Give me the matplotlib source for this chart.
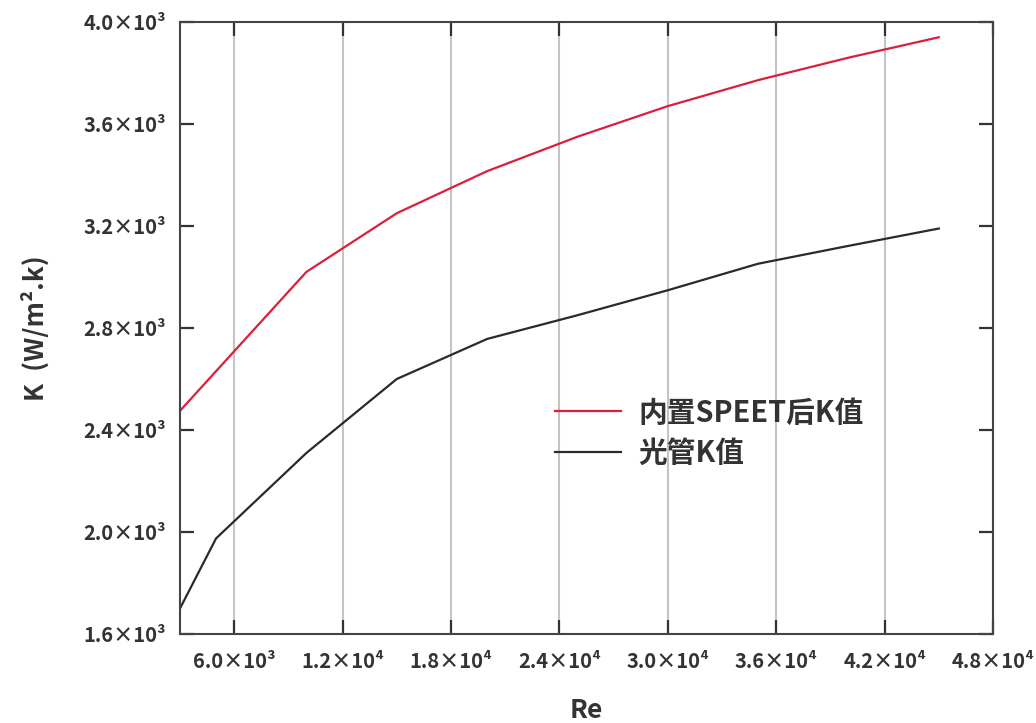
import matplotlib
matplotlib.use("Agg")
import matplotlib.pyplot as plt

plt.rcParams['font.family'] = ['Noto Sans CJK SC', 'DejaVu Sans']

# ---------------------------------------------------------------- data
re_speet = [3000, 10000, 15000, 20000, 25000, 30000, 35000, 40000, 45000]
k_speet = [2475, 3020, 3250, 3415, 3550, 3670, 3772, 3860, 3940]

re_plain = [3000, 5000, 10000, 15000, 20000, 25000, 30000, 35000, 40000, 45000]
k_plain = [1700, 1975, 2310, 2600, 2757, 2850, 2948, 3052, 3122, 3190]

x_ticks = [6000, 12000, 18000, 24000, 30000, 36000, 42000, 48000]
x_labels = ['6.0×10³', '1.2×10⁴', '1.8×10⁴', '2.4×10⁴',
            '3.0×10⁴', '3.6×10⁴', '4.2×10⁴', '4.8×10⁴']
y_ticks = [1600, 2000, 2400, 2800, 3200, 3600, 4000]
y_labels = ['1.6×10³', '2.0×10³', '2.4×10³', '2.8×10³',
            '3.2×10³', '3.6×10³', '4.0×10³']

label_speet = '内置SPEET后K值'
label_plain = '光管K值'

# ---------------------------------------------------------------- plot
fig = plt.figure(figsize=(10.36, 7.23), dpi=100)
ax = fig.add_axes([0.1737, 0.1231, 0.7848, 0.8465])

ax.plot(re_speet, k_speet, color='#db1f3a', lw=1.6, label=label_speet)
ax.plot(re_plain, k_plain, color='#2a2a2a', lw=1.6, label=label_plain)

ax.set_xlim(3000, 48000)
ax.set_ylim(1600, 4000)

ax.set_xticks(x_ticks)
ax.set_xticklabels(x_labels, fontsize=14.5, fontweight='bold', color='#333333')
ax.set_yticks(y_ticks)
ax.set_yticklabels(y_labels, fontsize=14.5, fontweight='bold', color='#333333')

ax.tick_params(direction='in', length=10, width=1.6, color='#333333',
               top=True, right=True, pad=10)
ax.tick_params(axis='x', pad=12)

ax.grid(axis='x', color='#c4c4c4', lw=1.5)
ax.set_axisbelow(True)
for sp in ax.spines.values():
    sp.set_color('#444444')
    sp.set_linewidth(1.5)

ax.set_xlabel('Re', fontsize=19, fontweight='bold', color='#333333', labelpad=18)
ax.set_ylabel('K  (W/m².k)', fontsize=19, fontweight='bold', color='#333333', labelpad=24)

ax.legend(loc='center left', bbox_to_anchor=(0.461, 0.329), frameon=False,
          prop={'size': 20.7, 'weight': 'bold'}, handlelength=2.3,
          handletextpad=0.6, labelspacing=0.36, labelcolor='#333333',
          borderpad=0, borderaxespad=0)

fig.savefig('out.png', dpi=100)
